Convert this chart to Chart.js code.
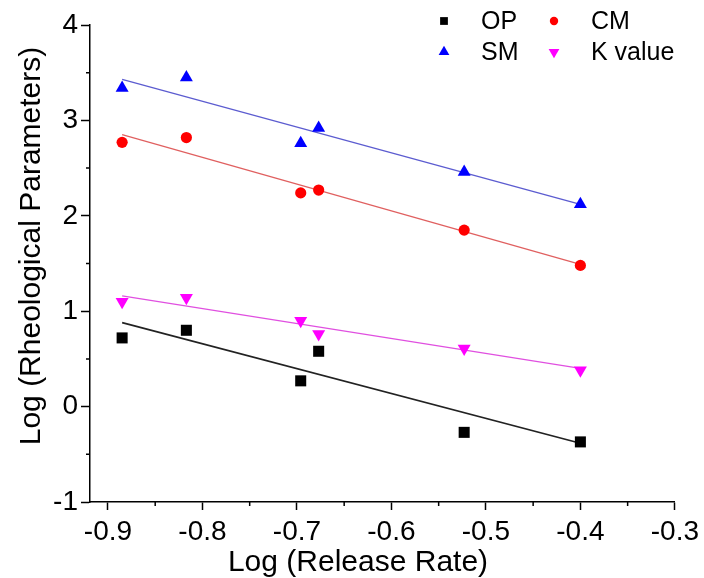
<!DOCTYPE html>
<html>
<head>
<meta charset="utf-8">
<script src="https://cdn.jsdelivr.net/npm/chart.js@4/dist/chart.umd.min.js"></script>
<style>
    html, body { margin: 0; padding: 0; background: #fff; }
</style>
</head>
<body>
<canvas id="rheoChart" width="704" height="578"></canvas>
<script>
// measured points, x = log of release rate
const releaseRate = [-0.885, -0.817, -0.696, -0.677, -0.523, -0.400];
const opValues = [0.72, 0.80, 0.27, 0.58, -0.27, -0.37];
const cmValues = [2.77, 2.82, 2.24, 2.27, 1.85, 1.48];
const smValues = [3.34, 3.45, 2.76, 2.92, 2.46, 2.12];
const kValues = [1.10, 1.14, 0.90, 0.76, 0.61, 0.38];

// linear fits, value at first and last release rate
const fitEnds = [-0.885, -0.400];
const opFit = [0.88, -0.385];
const cmFit = [2.85, 1.49];
const smFit = [3.43, 2.12];
const kFit = [1.16, 0.40];

const xTicks = [-0.9, -0.8, -0.7, -0.6, -0.5, -0.4, -0.3];
const yTicks = [-1, 0, 1, 2, 3, 4];

const xTitle = 'Log (Release Rate)';
const yTitle = 'Log (Rheological Parameters)';

const FONT = "'Liberation Sans', Arial, sans-serif";
Chart.defaults.font.family = FONT;
Chart.defaults.color = '#000';

function points(ys) {
    return releaseRate.map((x, i) => ({ x: x, y: ys[i] }));
}

function fitLine(ys) {
    return fitEnds.map((x, i) => ({ x: x, y: ys[i] }));
}

function markers(label, ys, style, color, rotation) {
    let r = 7.5;
    if (style == 'circle') r = 5.6;
    if (style == 'rect') r = 7.8;
    return {
        label: label,
        data: points(ys),
        pointStyle: style,
        pointRotation: rotation || 0,
        pointRadius: r,
        backgroundColor: color,
        borderColor: color,
        borderWidth: 0,
        order: 0
    };
}

function fit(ys, color, width) {
    return {
        data: fitLine(ys),
        showLine: true,
        pointRadius: 0,
        borderColor: color,
        borderWidth: width,
        fill: false,
        order: 1
    };
}

// short minor ticks halfway between the labelled ones
const minorTicks = {
    id: 'minorTicks',
    afterDraw(chart) {
        const ctx = chart.ctx;
        const xs = chart.scales.x, ys = chart.scales.y;
        const bottom = chart.chartArea.bottom, left = chart.chartArea.left;
        ctx.save();
        ctx.strokeStyle = '#000';
        ctx.lineWidth = 1.5;
        ctx.beginPath();
        for (let i = 1; i < xTicks.length; i++) {
            const px = xs.getPixelForValue((xTicks[i] + xTicks[i - 1]) / 2);
            ctx.moveTo(px, bottom);
            ctx.lineTo(px, bottom + 4);
        }
        for (let i = 1; i < yTicks.length; i++) {
            const py = ys.getPixelForValue((yTicks[i] + yTicks[i - 1]) / 2);
            ctx.moveTo(left, py);
            ctx.lineTo(left - 4, py);
        }
        ctx.stroke();
        ctx.restore();
    }
};

// axis titles sit a little off the axis centre
const axisTitles = {
    id: 'axisTitles',
    afterDraw(chart) {
        const ctx = chart.ctx;
        ctx.save();
        ctx.font = '30px ' + FONT;
        ctx.fillStyle = '#000';
        ctx.textAlign = 'center';
        ctx.textBaseline = 'middle';
        ctx.fillText(xTitle, 358, 563);
        ctx.translate(32, 246);
        ctx.rotate(-Math.PI / 2);
        ctx.fillText(yTitle, 0, 0);
        ctx.restore();
    }
};

// two column legend in the top right corner
const cornerLegend = {
    id: 'cornerLegend',
    afterDraw(chart) {
        const ctx = chart.ctx;
        const items = [
            { text: 'OP', style: 'rect', radius: 5.5, color: '#000', rot: 0, col: 0, row: 0 },
            { text: 'CM', style: 'circle', radius: 4.2, color: '#ff0000', rot: 0, col: 1, row: 0 },
            { text: 'SM', style: 'triangle', radius: 6.2, color: '#0000ff', rot: 0, col: 0, row: 1 },
            { text: 'K value', style: 'triangle', radius: 6.2, color: '#ff00ff', rot: 180, col: 1, row: 1 }
        ];
        ctx.save();
        ctx.font = '25px ' + FONT;
        ctx.textBaseline = 'middle';
        ctx.textAlign = 'left';
        items.forEach(it => {
            const mx = 444 + it.col * 110;
            const my = 21 + it.row * 31;
            ctx.fillStyle = it.color;
            Chart.helpers.drawPoint(ctx, { pointStyle: it.style, radius: it.radius, rotation: it.rot, borderWidth: 0 }, mx, my);
            ctx.fillStyle = '#000';
            ctx.fillText(it.text, mx + 37, my + 1);
        });
        ctx.restore();
    }
};

const ctx = document.getElementById('rheoChart').getContext('2d');
new Chart(ctx, {
    type: 'scatter',
    data: {
        datasets: [
            markers('OP', opValues, 'rect', '#000'),
            markers('CM', cmValues, 'circle', '#ff0000'),
            markers('SM', smValues, 'triangle', '#0000ff'),
            markers('K value', kValues, 'triangle', '#ff00ff', 180),
            fit(opFit, '#222', 1.6),
            fit(cmFit, '#e06060', 1.3),
            fit(smFit, '#5c5cd0', 1.3),
            fit(kFit, '#e050e0', 1.3)
        ]
    },
    options: {
        responsive: false,
        animation: false,
        layout: {
            padding: { top: 25, right: 29, left: 0, bottom: 0 }
        },
        plugins: {
            legend: { display: false },
            tooltip: { enabled: false }
        },
        scales: {
            x: {
                type: 'linear',
                min: -0.919,
                max: -0.3,
                afterBuildTicks: s => { s.ticks = xTicks.map(v => ({ value: v })); },
                afterFit: s => { s.height = 76; },
                grid: { drawOnChartArea: false, tickLength: 8, tickColor: '#000', tickWidth: 1.5 },
                border: { display: true, color: '#000', width: 1.5 },
                ticks: {
                    color: '#000',
                    font: { size: 28 },
                    padding: 5,
                    maxRotation: 0,
                    autoSkip: false,
                    callback: v => v.toFixed(1)
                }
            },
            y: {
                type: 'linear',
                min: -1,
                max: 4,
                afterBuildTicks: s => { s.ticks = yTicks.map(v => ({ value: v })); },
                afterFit: s => { s.width = 90; },
                grid: { drawOnChartArea: false, tickLength: 9, tickColor: '#000', tickWidth: 1.5 },
                border: { display: true, color: '#000', width: 1.5 },
                ticks: {
                    color: '#000',
                    font: { size: 28 },
                    padding: 3,
                    callback: v => String(v)
                }
            }
        }
    },
    plugins: [minorTicks, axisTitles, cornerLegend]
});
</script>
</body>
</html>
